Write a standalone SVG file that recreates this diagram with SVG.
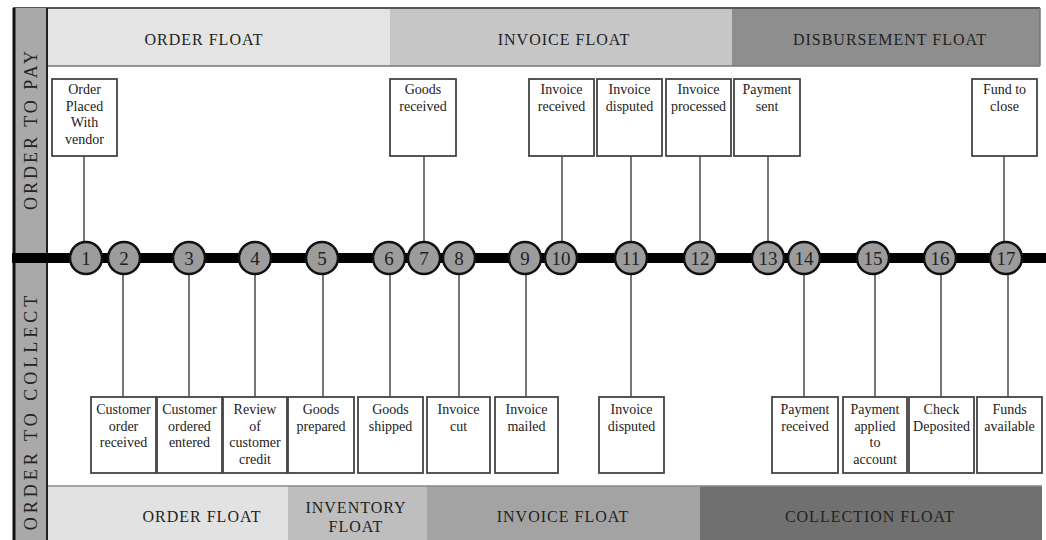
<svg xmlns="http://www.w3.org/2000/svg" width="1046" height="540" viewBox="0 0 1046 540">
<style>
.band{stroke:none}
.bt{font-family:"Liberation Serif","Times New Roman",serif;font-size:16px;fill:#222;text-anchor:middle;letter-spacing:1px}
.side{font-family:"Liberation Serif","Times New Roman",serif;font-size:18px;fill:#222;text-anchor:middle}
.box{fill:#fff;stroke:#444;stroke-width:1.8}
.lbl{font-family:"Liberation Serif","Times New Roman",serif;font-size:14px;fill:#222;text-anchor:middle}
.conn{stroke:#555;stroke-width:1.6;fill:none}
.circ{fill:#9c9c9c;stroke:#111;stroke-width:2.5}
.num{font-family:"Liberation Serif","Times New Roman",serif;font-size:19px;fill:#222;text-anchor:middle}
</style>
<rect width="1046" height="540" fill="#fff"/>

<g id="top-bands">
<rect class="band" x="48" y="8" width="342" height="58" fill="#e4e4e4"/>
<rect class="band" x="390" y="8" width="342" height="58" fill="#c6c6c6"/>
<rect class="band" x="732" y="8" width="308" height="58" fill="#8e8e8e"/>
<line x1="13" y1="8" x2="1040" y2="8" stroke="#555" stroke-width="2"/>
<line x1="48" y1="66" x2="1040" y2="66" stroke="#777" stroke-width="1.5"/>
<line x1="1040" y1="8" x2="1040" y2="66" stroke="#777" stroke-width="1.5"/>
<text class="bt" x="204" y="45">ORDER FLOAT</text>
<text class="bt" x="564" y="45">INVOICE FLOAT</text>
<text class="bt" x="890" y="45">DISBURSEMENT FLOAT</text>
</g>

<g id="bottom-bands">
<rect class="band" x="48" y="486" width="240" height="54" fill="#e2e2e2"/>
<rect class="band" x="288" y="486" width="139" height="54" fill="#bebebe"/>
<rect class="band" x="427" y="486" width="273" height="54" fill="#a3a3a3"/>
<rect class="band" x="700" y="486" width="342" height="54" fill="#707070"/>
<line x1="48" y1="486" x2="1042" y2="486" stroke="#888" stroke-width="1.5"/>
<text class="bt" x="202" y="522">ORDER FLOAT</text>
<text class="bt" x="356" y="513">INVENTORY</text>
<text class="bt" x="356" y="532">FLOAT</text>
<text class="bt" x="563" y="522">INVOICE FLOAT</text>
<text class="bt" x="870" y="522">COLLECTION FLOAT</text>
</g>

<g id="side-labels">
<rect x="13" y="8" width="34" height="532" fill="#a9a9a9"/>
<line x1="14" y1="8" x2="14" y2="540" stroke="#111" stroke-width="3"/>
<line x1="47" y1="8" x2="47" y2="540" stroke="#222" stroke-width="2"/>
<text class="side" transform="translate(37,129) rotate(-90)" letter-spacing="3">ORDER TO PAY</text>
<text class="side" transform="translate(37,411) rotate(-90)" letter-spacing="4">ORDER TO COLLECT</text>
</g>

<g id="timeline">
<line x1="12" y1="258" x2="1046" y2="258" stroke="#000" stroke-width="10"/>
</g>

<g id="connectors">
<line class="conn" x1="84" y1="156" x2="84" y2="242"/>
<line class="conn" x1="424" y1="156" x2="424" y2="242"/>
<line class="conn" x1="562" y1="156" x2="562" y2="242"/>
<line class="conn" x1="631" y1="156" x2="631" y2="242"/>
<line class="conn" x1="700" y1="156" x2="700" y2="242"/>
<line class="conn" x1="768" y1="156" x2="768" y2="242"/>
<line class="conn" x1="1004" y1="156" x2="1004" y2="242"/>
<line class="conn" x1="123" y1="274" x2="123" y2="397"/>
<line class="conn" x1="189" y1="274" x2="189" y2="397"/>
<line class="conn" x1="255" y1="274" x2="255" y2="397"/>
<line class="conn" x1="323" y1="274" x2="323" y2="397"/>
<line class="conn" x1="390" y1="274" x2="390" y2="397"/>
<line class="conn" x1="459" y1="274" x2="459" y2="397"/>
<line class="conn" x1="526" y1="274" x2="526" y2="397"/>
<line class="conn" x1="631" y1="274" x2="631" y2="397"/>
<line class="conn" x1="804" y1="274" x2="804" y2="397"/>
<line class="conn" x1="875" y1="274" x2="875" y2="397"/>
<line class="conn" x1="941" y1="274" x2="941" y2="397"/>
<line class="conn" x1="1008" y1="274" x2="1008" y2="397"/>
</g>

<g id="n1"><circle class="circ" cx="86" cy="258" r="16"/><text class="num" x="86" y="265">1</text></g>
<g id="n2"><circle class="circ" cx="124" cy="258" r="16"/><text class="num" x="124" y="265">2</text></g>
<g id="n3"><circle class="circ" cx="189" cy="258" r="16"/><text class="num" x="189" y="265">3</text></g>
<g id="n4"><circle class="circ" cx="255" cy="258" r="16"/><text class="num" x="255" y="265">4</text></g>
<g id="n5"><circle class="circ" cx="322" cy="258" r="16"/><text class="num" x="322" y="265">5</text></g>
<g id="n6"><circle class="circ" cx="389" cy="258" r="16"/><text class="num" x="389" y="265">6</text></g>
<g id="n7"><circle class="circ" cx="424" cy="258" r="16"/><text class="num" x="424" y="265">7</text></g>
<g id="n8"><circle class="circ" cx="459" cy="258" r="16"/><text class="num" x="459" y="265">8</text></g>
<g id="n9"><circle class="circ" cx="525" cy="258" r="16"/><text class="num" x="525" y="265">9</text></g>
<g id="n10"><circle class="circ" cx="561" cy="258" r="16"/><text class="num" x="561" y="265">10</text></g>
<g id="n11"><circle class="circ" cx="631" cy="258" r="16"/><text class="num" x="631" y="265">11</text></g>
<g id="n12"><circle class="circ" cx="700" cy="258" r="16"/><text class="num" x="700" y="265">12</text></g>
<g id="n13"><circle class="circ" cx="768" cy="258" r="16"/><text class="num" x="768" y="265">13</text></g>
<g id="n14"><circle class="circ" cx="804" cy="258" r="16"/><text class="num" x="804" y="265">14</text></g>
<g id="n15"><circle class="circ" cx="873" cy="258" r="16"/><text class="num" x="873" y="265">15</text></g>
<g id="n16"><circle class="circ" cx="940" cy="258" r="16"/><text class="num" x="940" y="265">16</text></g>
<g id="n17"><circle class="circ" cx="1006" cy="258" r="16"/><text class="num" x="1006" y="265">17</text></g>

<g id="box-order-placed"><rect class="box" x="52" y="79" width="65" height="77"/><text class="lbl" x="84.5" y="94">Order</text><text class="lbl" x="84.5" y="110.5">Placed</text><text class="lbl" x="84.5" y="127">With</text><text class="lbl" x="84.5" y="143.5">vendor</text></g>
<g id="box-goods-received"><rect class="box" x="390" y="79" width="66" height="77"/><text class="lbl" x="423" y="94">Goods</text><text class="lbl" x="423" y="110.5">received</text></g>
<g id="box-invoice-received"><rect class="box" x="529" y="79" width="65" height="77"/><text class="lbl" x="561.5" y="94">Invoice</text><text class="lbl" x="561.5" y="110.5">received</text></g>
<g id="box-invoice-disputed-top"><rect class="box" x="597" y="79" width="65" height="77"/><text class="lbl" x="629.5" y="94">Invoice</text><text class="lbl" x="629.5" y="110.5">disputed</text></g>
<g id="box-invoice-processed"><rect class="box" x="666" y="79" width="65" height="77"/><text class="lbl" x="698.5" y="94">Invoice</text><text class="lbl" x="698.5" y="110.5">processed</text></g>
<g id="box-payment-sent"><rect class="box" x="734" y="79" width="66" height="77"/><text class="lbl" x="767" y="94">Payment</text><text class="lbl" x="767" y="110.5">sent</text></g>
<g id="box-fund-to-close"><rect class="box" x="972" y="79" width="65" height="77"/><text class="lbl" x="1004.5" y="94">Fund to</text><text class="lbl" x="1004.5" y="110.5">close</text></g>

<g id="box-customer-order-received"><rect class="box" x="91" y="397" width="65" height="76"/><text class="lbl" x="123.5" y="414">Customer</text><text class="lbl" x="123.5" y="430.5">order</text><text class="lbl" x="123.5" y="447">received</text></g>
<g id="box-customer-ordered-entered"><rect class="box" x="157" y="397" width="65" height="76"/><text class="lbl" x="189.5" y="414">Customer</text><text class="lbl" x="189.5" y="430.5">ordered</text><text class="lbl" x="189.5" y="447">entered</text></g>
<g id="box-review-credit"><rect class="box" x="223" y="397" width="64" height="76"/><text class="lbl" x="255" y="414">Review</text><text class="lbl" x="255" y="430.5">of</text><text class="lbl" x="255" y="447">customer</text><text class="lbl" x="255" y="463.5">credit</text></g>
<g id="box-goods-prepared"><rect class="box" x="288" y="397" width="66" height="76"/><text class="lbl" x="321" y="414">Goods</text><text class="lbl" x="321" y="430.5">prepared</text></g>
<g id="box-goods-shipped"><rect class="box" x="358" y="397" width="65" height="76"/><text class="lbl" x="390.5" y="414">Goods</text><text class="lbl" x="390.5" y="430.5">shipped</text></g>
<g id="box-invoice-cut"><rect class="box" x="427" y="397" width="63" height="76"/><text class="lbl" x="458.5" y="414">Invoice</text><text class="lbl" x="458.5" y="430.5">cut</text></g>
<g id="box-invoice-mailed"><rect class="box" x="495" y="397" width="63" height="76"/><text class="lbl" x="526.5" y="414">Invoice</text><text class="lbl" x="526.5" y="430.5">mailed</text></g>
<g id="box-invoice-disputed-bottom"><rect class="box" x="599" y="397" width="65" height="76"/><text class="lbl" x="631.5" y="414">Invoice</text><text class="lbl" x="631.5" y="430.5">disputed</text></g>
<g id="box-payment-received"><rect class="box" x="772" y="397" width="66" height="76"/><text class="lbl" x="805" y="414">Payment</text><text class="lbl" x="805" y="430.5">received</text></g>
<g id="box-payment-applied"><rect class="box" x="843" y="397" width="64" height="76"/><text class="lbl" x="875" y="414">Payment</text><text class="lbl" x="875" y="430.5">applied</text><text class="lbl" x="875" y="447">to</text><text class="lbl" x="875" y="463.5">account</text></g>
<g id="box-check-deposited"><rect class="box" x="909" y="397" width="65" height="76"/><text class="lbl" x="941.5" y="414">Check</text><text class="lbl" x="941.5" y="430.5">Deposited</text></g>
<g id="box-funds-available"><rect class="box" x="977" y="397" width="65" height="76"/><text class="lbl" x="1009.5" y="414">Funds</text><text class="lbl" x="1009.5" y="430.5">available</text></g>
</svg>
